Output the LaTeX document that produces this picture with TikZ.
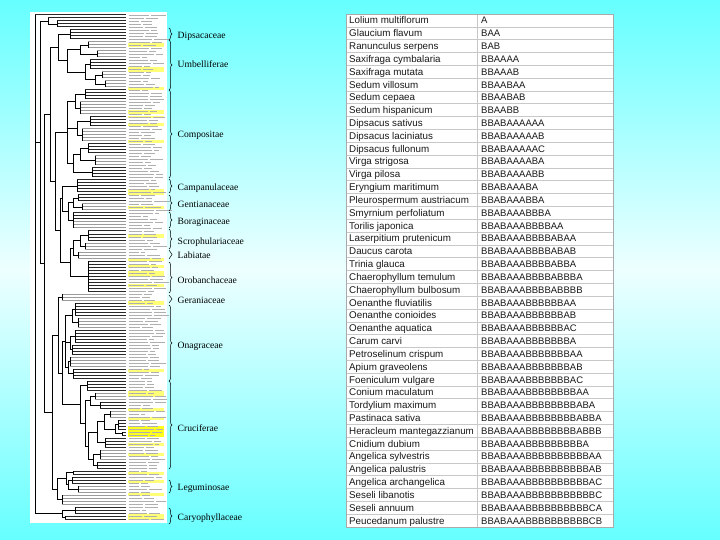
\documentclass[tikz,border=0pt]{standalone}
\usepackage{fontspec}
\newfontfamily\tabfont{Liberation Sans}
\newfontfamily\famfont{Liberation Serif}
\usetikzlibrary{decorations.pathreplacing}
\definecolor{bgedge}{RGB}{102,255,255}
\definecolor{bgmid}{RGB}{238,255,255}
\definecolor{hl}{RGB}{255,255,120}
\definecolor{hlb}{RGB}{255,255,30}
\definecolor{dk}{RGB}{40,40,40}
\definecolor{lt}{RGB}{155,155,155}
\definecolor{rulec}{RGB}{200,200,200}
\definecolor{labc}{RGB}{175,175,175}
\begin{document}
\begin{tikzpicture}[x=1pt,y=-1pt,
  tree/.style={line width=0.7pt,black},
  leafline/.style={line width=1pt},
  tabtxt/.style={font=\tabfont\fontsize{9.8}{10}\selectfont,inner sep=0pt,anchor=base west,text=black!90},
  codetxt/.style={font=\tabfont\fontsize{9.5}{10}\selectfont,inner sep=0pt,anchor=base west,text=black!90},
  famtxt/.style={font=\famfont\fontsize{9.6}{10}\selectfont,inner sep=0pt,anchor=base west},
  fambrace/.style={decorate,decoration={brace,amplitude=3pt},line width=0.5pt},
  rowrule/.style={rulec,line width=0.6pt}]
\useasboundingbox (0,0) rectangle (720,540);
\shade[top color=bgedge,bottom color=bgedge,middle color=bgmid] (0,0) rectangle (720,540);

% ---------------- dendrogram panel ----------------
\fill[white] (30,12) rectangle (167,523);
% yellow highlights in label column
\foreach \ya/\yb in {43/47,67/72,87/90,110/114,116/118,123/126,140/143,189/195,206/209,234/238,258/261,265/268,271/277,284/287,301/305,369/372,391/397,408/411,417/420,443/446,453/456,472/475,480/483,493/496,514/520}
  \fill[hl] (127.5,\ya) rectangle (164,\yb);
\fill[hlb] (127.5,426) rectangle (164,437);
% illegible leaf labels
\pgfmathsetseed{11}
\foreach \k in {0,...,168}{
  \pgfmathsetmacro\len{10+16*rnd}
  \pgfmathsetmacro\lenb{4+12*rnd}
  \draw[labc,line width=0.9pt] (128.5,{15+3*\k}) -- ++(\len,0) ++(2,0) -- ++(\lenb,0);
}
% leaf groups: x / first leaf / last leaf / colour
\foreach \x/\ka/\kb/\c in {
  35/0/0/dk, 48/1/1/dk, 57/2/4/dk, 70/5/8/dk,
  88/9/11/lt, 97/12/14/lt, 90/15/18/dk, 102/19/21/lt, 105/22/24/lt,
  85/25/28/dk, 80/29/33/lt, 90/34/37/dk, 82/38/42/lt, 88/43/46/dk, 95/47/50/lt, 92/51/54/dk,
  77/55/59/dk, 78/60/62/dk, 82/63/65/lt, 73/66/68/dk, 73/69/71/lt,
  88/72/75/dk, 85/76/78/lt, 78/79/81/lt, 88/82/92/dk,
  62/93/95/lt, 75/96/100/dk, 78/101/104/lt, 75/105/109/dk, 72/110/113/dk, 70/114/117/lt, 73/118/121/dk,
  87/122/125/dk, 95/126/128/lt, 100/129/131/dk, 110/132/134/lt, 118/135/138/dk, 122/139/140/dk,
  105/141/144/dk, 100/145/148/lt, 97/149/151/dk,
  73/152/153/dk, 72/154/156/dk, 78/157/159/lt, 62/160/163/lt, 75/164/166/dk, 65/167/168/dk}{
  \foreach \k in {\ka,...,\kb}
    \draw[leafline,\c] (\x,{15+3*\k}) -- (126,{15+3*\k});
  \draw[tree] (\x,{15+3*\ka}) -- (\x,{15+3*\kb});
}
% internal verticals: x / y1 / y2
\foreach \x/\ya/\yb in {
  48/18/24, 80/45/54, 95/75/84, 85/64.5/79.5, 67/49.5/72, 58/34.5/60.75,
  75/94.5/108, 77/121.5/135, 80/148.5/160.5, 73/154.5/172.5, 67/101.25/163.5,
  73/198/207, 73/213/228, 68/202.5/220.5, 80/235.5/246, 73/240.75/255, 70/247.9/276,
  62/186/211.5, 60/198.75/262, 55/132.4/230.4, 50/47.6/181.4,
  72/309/322.5, 70/336/349.5, 68/361.5/373.5, 65/315.75/367.5,
  90/396/405, 115/424.5/433.5, 104/414/429, 97/421.5/442.5, 93/454.5/465,
  88/432/459.75, 85/400.5/445.9, 80/385.5/423.2,
  62/341.6/404.4, 58/297/373, 68/480/489, 66/472.5/484.5, 57/478.5/499.5,
  52/335/489, 44/114.5/412, 40/21/263.25, 62/510/517.5, 35/15/513.75}
  \draw[tree] (\x,\ya) -- (\x,\yb);
% internal horizontals: x1 / x2 / y
\foreach \xa/\xb/\y in {
  48/57/24, 80/88/45, 80/97/54, 95/102/75, 95/105/84, 85/90/64.5, 85/95/79.5,
  67/80/49.5, 67/85/72, 58/70/34.5, 58/67/60.75,
  75/85/94.5, 75/80/108, 77/90/121.5, 77/82/135, 80/88/148.5, 80/95/160.5,
  73/80/154.5, 73/92/172.5, 67/75/101.25, 67/77/128.25, 67/73/163.5,
  73/78/198, 73/82/207, 68/73/202.5, 68/73/220.5, 80/88/235.5, 80/85/246,
  73/80/240.75, 73/78/255, 70/73/247.9, 70/88/276, 62/77/186, 62/68/211.5,
  60/62/198.75, 60/70/262, 55/67/132.4, 55/60/230.4, 50/58/47.6, 50/55/181.4,
  72/75/309, 72/78/322.5, 70/75/336, 70/72/349.5, 68/70/361.5, 68/73/373.5,
  65/72/315.75, 65/70/342.75, 65/68/367.5,
  90/95/396, 90/100/405, 115/118/424.5, 115/122/433.5, 104/110/414, 104/115/429,
  97/104/421.5, 97/105/442.5, 93/100/454.5, 93/97/465, 88/97/432, 88/93/459.75,
  85/90/400.5, 85/88/445.9, 80/87/385.5, 80/85/423.2,
  62/65/341.6, 62/80/404.4, 58/62/297, 58/62/373, 68/72/480, 68/78/489,
  66/73/472.5, 66/68/484.5, 57/66/478.5, 57/62/499.5, 52/58/335, 52/57/489,
  44/50/114.5, 44/52/412, 40/48/21, 40/44/263.25, 62/75/510, 62/65/517.5,
  35/40/142, 35/62/513.75}
  \draw[tree] (\xa,\y) -- (\xb,\y);
% white separator between tree and labels
\draw[white,line width=0.8pt] (126.8,12) -- (126.8,523);

% ---------------- family braces and labels ----------------
\foreach \ya/\yb/\yl/\name/\nm in {
  28/40/35/Dipsacaceae/dip, 40/90/64/Umbelliferae/umb, 90/178/134/Compositae/com,
  179/193/187/Campanulaceae/cam, 195/211/204/Gentianaceae/gen, 212/228/221/Boraginaceae/bor,
  229/249/241/Scrophulariaceae/scr, 250/259/255/Labiatae/lab, 262/293/280/Orobanchaceae/oro,
  295/303/300/Geraniaceae/ger, 305/381/345/Onagraceae/ona, 381/469/428/Cruciferae/cru,
  480/493/487/Leguminosae/leg, 508/524/517/Caryophyllaceae/car}{
  \draw[fambrace] (169,\ya) -- (169,\yb);
  \node[famtxt] (fam\nm) at (177.5,{\yl+3.2}) {\name};
}

% ---------------- table ----------------
\fill[white] (346,14) rectangle (613,527);
\foreach \n in {1,...,39}
  \draw[rowrule] (346,{14+\n*12.825}) -- (613,{14+\n*12.825});
\draw[rowrule] (477.7,14) -- (477.7,527);
\draw[rulec!85!black,line width=0.6pt] (346,14) rectangle (613,527);
\foreach \sp/\cd [count=\n] in {
  Lolium multiflorum/A, Glaucium flavum/BAA, Ranunculus serpens/BAB,
  Saxifraga cymbalaria/BBAAAA, Saxifraga mutata/BBAAAB, Sedum villosum/BBAABAA,
  Sedum cepaea/BBAABAB, Sedum hispanicum/BBAABB, Dipsacus sativus/BBABAAAAAA,
  Dipsacus laciniatus/BBABAAAAAB, Dipsacus fullonum/BBABAAAAAC, Virga strigosa/BBABAAAABA,
  Virga pilosa/BBABAAAABB, Eryngium maritimum/BBABAAABA, Pleurospermum austriacum/BBABAAABBA,
  Smyrnium perfoliatum/BBABAAABBBA, Torilis japonica/BBABAAABBBBAA,
  Laserpitium prutenicum/BBABAAABBBBABAA, Daucus carota/BBABAAABBBBABAB,
  Trinia glauca/BBABAAABBBBABBA, Chaerophyllum temulum/BBABAAABBBBABBBA,
  Chaerophyllum bulbosum/BBABAAABBBBABBBB, Oenanthe fluviatilis/BBABAAABBBBBBAA,
  Oenanthe conioides/BBABAAABBBBBBAB, Oenanthe aquatica/BBABAAABBBBBBAC,
  Carum carvi/BBABAAABBBBBBBA, Petroselinum crispum/BBABAAABBBBBBBAA,
  Apium graveolens/BBABAAABBBBBBBAB, Foeniculum vulgare/BBABAAABBBBBBBAC,
  Conium maculatum/BBABAAABBBBBBBBAA, Tordylium maximum/BBABAAABBBBBBBBABA,
  Pastinaca sativa/BBABAAABBBBBBBBABBA, Heracleum mantegazzianum/BBABAAABBBBBBBBABBB,
  Cnidium dubium/BBABAAABBBBBBBBBA, Angelica sylvestris/BBABAAABBBBBBBBBBAA,
  Angelica palustris/BBABAAABBBBBBBBBBAB, Angelica archangelica/BBABAAABBBBBBBBBBAC,
  Seseli libanotis/BBABAAABBBBBBBBBBBC, Seseli annuum/BBABAAABBBBBBBBBBCA,
  Peucedanum palustre/BBABAAABBBBBBBBBBCB}{
  \node[tabtxt] (sp\n) at (349,{14+(\n-0.5)*12.825+3.5}) {\sp};
  \node[codetxt] (cd\n) at (481,{14+(\n-0.5)*12.825+3.5}) {\cd};
}
\end{tikzpicture}
\end{document}
